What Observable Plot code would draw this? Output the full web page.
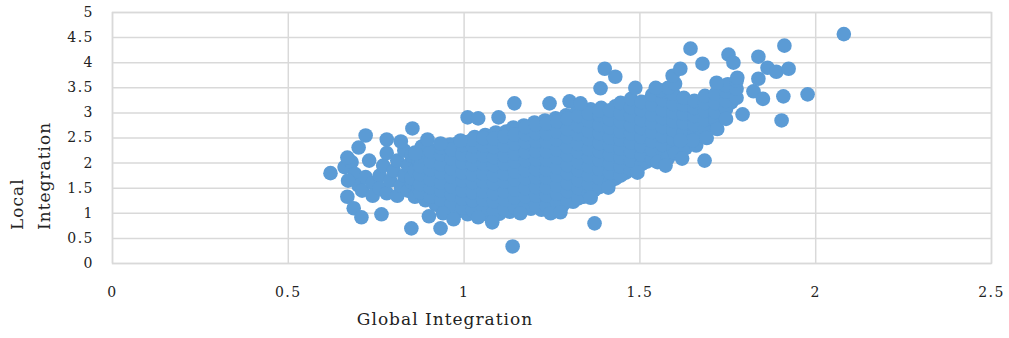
<!DOCTYPE html>
<html><head><meta charset="utf-8">
<script src="https://cdn.jsdelivr.net/npm/d3@7"></script>
<script src="https://cdn.jsdelivr.net/npm/@observablehq/plot@0.6"></script>
<style>body{margin:0;background:#fff;} svg{font-family:"DejaVu Serif",serif;}</style>
</head><body><div id="chart"></div>
<script>
const xTicks = [0, 0.5, 1, 1.5, 2, 2.5];
const yTicks = [0, 0.5, 1, 1.5, 2, 2.5, 3, 3.5, 4, 4.5, 5];
const xLabel = "Global Integration";
const yLabelLines = ["Local", "Integration"];

// [Global Integration, Local Integration]
const leftPoints = [
  [0.66,1.92],[0.68,2.02],[0.69,1.78],[0.70,1.55],[0.71,1.45],[0.72,1.72],[0.73,2.05],[0.74,1.60],
  [0.74,1.35],[0.76,1.75],[0.76,1.50],[0.77,1.95],[0.78,2.20],[0.78,1.40],[0.79,1.65],[0.80,1.85],
  [0.81,2.05],[0.81,1.35],[0.82,1.55],[0.83,1.75],[0.83,2.25],[0.84,1.95],[0.84,1.45],[0.85,2.15],[0.85,1.62]
];

const densePoints = [
  [0.86,1.33],[0.87,1.49],[0.85,1.70],[0.86,1.85],[0.87,2.05],[0.86,2.21],
  [0.89,1.26],[0.90,1.41],[0.88,1.62],[0.89,1.77],[0.90,1.97],[0.89,2.13],[0.88,2.33],
  [0.92,1.17],[0.93,1.37],[0.91,1.53],[0.92,1.74],[0.93,1.89],[0.92,2.09],[0.91,2.25],
  [0.95,1.12],[0.96,1.27],[0.94,1.47],[0.95,1.63],[0.96,1.83],[0.95,2.01],[0.94,2.17],[0.96,2.37],
  [0.98,1.03],[0.99,1.21],[0.97,1.37],[0.98,1.57],[0.99,1.73],[0.98,1.93],[0.97,2.11],[0.99,2.27],[0.98,2.39],
  [1.01,0.98],[1.02,1.14],[1.00,1.34],[1.01,1.50],[1.02,1.70],[1.01,1.86],[1.00,2.06],[1.02,2.22],[1.01,2.42],
  [1.04,1.01],[1.05,1.17],[1.03,1.37],[1.04,1.53],[1.05,1.73],[1.04,1.89],[1.03,2.09],[1.05,2.25],[1.04,2.43],[1.03,2.52],
  [1.07,0.96],[1.08,1.14],[1.06,1.30],[1.07,1.50],[1.08,1.66],[1.07,1.86],[1.06,2.02],[1.08,2.22],[1.07,2.38],[1.06,2.56],
  [1.10,0.99],[1.11,1.15],[1.09,1.35],[1.10,1.51],[1.11,1.71],[1.10,1.87],[1.09,2.07],[1.11,2.23],[1.10,2.43],[1.09,2.61],
  [1.13,1.03],[1.14,1.19],[1.12,1.39],[1.13,1.55],[1.14,1.75],[1.13,1.91],[1.12,2.11],[1.14,2.27],[1.13,2.47],[1.12,2.63],[1.14,2.71],
  [1.16,1.06],[1.17,1.22],[1.15,1.42],[1.16,1.58],[1.17,1.78],[1.16,1.94],[1.15,2.14],[1.17,2.30],[1.16,2.50],[1.15,2.66],[1.17,2.75],
  [1.19,1.09],[1.20,1.25],[1.18,1.45],[1.19,1.61],[1.20,1.81],[1.19,1.97],[1.18,2.17],[1.20,2.33],[1.19,2.53],[1.18,2.69],[1.20,2.81],
  [1.22,1.07],[1.23,1.23],[1.21,1.43],[1.22,1.59],[1.23,1.79],[1.22,1.95],[1.21,2.15],[1.23,2.31],[1.22,2.51],[1.21,2.67],[1.23,2.85],
  [1.25,1.11],[1.26,1.27],[1.24,1.47],[1.25,1.63],[1.26,1.83],[1.25,1.99],[1.24,2.19],[1.26,2.35],[1.25,2.55],[1.24,2.71],[1.26,2.89],
  [1.28,1.16],[1.29,1.32],[1.27,1.52],[1.28,1.68],[1.29,1.88],[1.28,2.04],[1.27,2.24],[1.29,2.40],[1.28,2.60],[1.27,2.76],[1.29,2.95],
  [1.31,1.23],[1.32,1.39],[1.30,1.59],[1.31,1.75],[1.32,1.95],[1.31,2.11],[1.30,2.31],[1.32,2.47],[1.31,2.67],[1.30,2.83],[1.32,3.01],
  [1.34,1.33],[1.35,1.49],[1.33,1.69],[1.34,1.85],[1.35,2.05],[1.34,2.21],[1.33,2.41],[1.35,2.57],[1.34,2.77],[1.33,2.93],[1.35,3.05],
  [1.37,1.46],[1.38,1.62],[1.36,1.82],[1.37,1.98],[1.38,2.18],[1.37,2.34],[1.36,2.54],[1.38,2.70],[1.37,2.90],[1.36,3.07],
  [1.40,1.56],[1.41,1.72],[1.39,1.92],[1.40,2.08],[1.41,2.28],[1.40,2.44],[1.39,2.64],[1.41,2.80],[1.40,3.00],[1.39,3.10],
  [1.43,1.69],[1.44,1.85],[1.42,2.05],[1.43,2.21],[1.44,2.41],[1.43,2.57],[1.42,2.77],[1.44,2.93],[1.43,3.13],
  [1.46,1.81],[1.47,1.97],[1.45,2.17],[1.46,2.33],[1.47,2.53],[1.46,2.69],[1.45,2.89],[1.47,3.05],[1.46,3.18],
  [1.49,1.93],[1.50,2.09],[1.48,2.29],[1.49,2.45],[1.50,2.65],[1.49,2.81],[1.48,3.01],[1.50,3.17],
  [1.52,2.03],[1.53,2.19],[1.51,2.39],[1.52,2.55],[1.53,2.75],[1.52,2.91],[1.51,3.11],[1.53,3.25],
  [1.55,2.13],[1.56,2.29],[1.54,2.49],[1.55,2.65],[1.56,2.85],[1.55,3.01],[1.54,3.21],[1.56,3.30],
  [1.58,2.23],[1.59,2.39],[1.57,2.59],[1.58,2.75],[1.59,2.95],[1.58,3.11],[1.57,3.31],
  [1.61,2.36],[1.62,2.52],[1.60,2.72],[1.61,2.88],[1.62,3.08],[1.61,3.24],
  [1.64,2.51],[1.65,2.67],[1.63,2.87],[1.64,3.03],[1.65,3.19],
  [1.67,2.63],[1.68,2.79],[1.66,2.99],[1.67,3.15],[1.68,3.23],
  [1.70,2.76],[1.71,2.92],[1.69,3.12],[1.70,3.28],
  [1.73,2.96],[1.74,3.12],[1.72,3.32],[1.73,3.45],
  [1.76,3.21],[1.77,3.37],[1.75,3.57]
];

const denseInnerPoints = [
  [0.875,1.42],[0.875,1.58],[0.875,1.78],[0.875,1.94],[0.875,2.14],
  [0.905,1.33],[0.905,1.51],[0.905,1.67],[0.905,1.87],[0.905,2.03],[0.905,2.23],
  [0.935,1.27],[0.935,1.45],[0.935,1.61],[0.935,1.81],[0.935,1.97],[0.935,2.17],[0.935,2.31],
  [0.965,1.19],[0.965,1.37],[0.965,1.53],[0.965,1.73],[0.965,1.89],[0.965,2.09],[0.965,2.27],
  [0.995,1.11],[0.995,1.29],[0.995,1.45],[0.995,1.65],[0.995,1.81],[0.995,2.01],[0.995,2.17],[0.995,2.36],
  [1.025,1.06],[1.025,1.26],[1.025,1.42],[1.025,1.62],[1.025,1.78],[1.025,1.98],[1.025,2.14],[1.025,2.34],[1.025,2.47],
  [1.055,1.08],[1.055,1.27],[1.055,1.43],[1.055,1.63],[1.055,1.79],[1.055,1.99],[1.055,2.15],[1.055,2.35],[1.055,2.50],
  [1.085,1.04],[1.085,1.24],[1.085,1.40],[1.085,1.60],[1.085,1.76],[1.085,1.96],[1.085,2.12],[1.085,2.32],[1.085,2.49],
  [1.115,1.07],[1.115,1.27],[1.115,1.43],[1.115,1.63],[1.115,1.79],[1.115,1.99],[1.115,2.15],[1.115,2.35],[1.115,2.53],
  [1.145,1.11],[1.145,1.31],[1.145,1.47],[1.145,1.67],[1.145,1.83],[1.145,2.03],[1.145,2.19],[1.145,2.39],[1.145,2.57],
  [1.175,1.14],[1.175,1.34],[1.175,1.50],[1.175,1.70],[1.175,1.86],[1.175,2.06],[1.175,2.22],[1.175,2.42],[1.175,2.58],[1.175,2.72],
  [1.205,1.16],[1.205,1.36],[1.205,1.52],[1.205,1.72],[1.205,1.88],[1.205,2.08],[1.205,2.24],[1.205,2.44],[1.205,2.60],[1.205,2.76],
  [1.235,1.15],[1.235,1.35],[1.235,1.51],[1.235,1.71],[1.235,1.87],[1.235,2.07],[1.235,2.23],[1.235,2.43],[1.235,2.59],[1.235,2.79],
  [1.265,1.19],[1.265,1.39],[1.265,1.55],[1.265,1.75],[1.265,1.91],[1.265,2.11],[1.265,2.27],[1.265,2.47],[1.265,2.63],[1.265,2.83],
  [1.295,1.24],[1.295,1.44],[1.295,1.60],[1.295,1.80],[1.295,1.96],[1.295,2.16],[1.295,2.32],[1.295,2.52],[1.295,2.68],[1.295,2.88],
  [1.325,1.30],[1.325,1.50],[1.325,1.66],[1.325,1.86],[1.325,2.02],[1.325,2.22],[1.325,2.38],[1.325,2.58],[1.325,2.74],[1.325,2.94],
  [1.355,1.40],[1.355,1.58],[1.355,1.76],[1.355,1.94],[1.355,2.12],[1.355,2.28],[1.355,2.48],[1.355,2.64],[1.355,2.84],[1.355,2.99],
  [1.385,1.52],[1.385,1.70],[1.385,1.88],[1.385,2.06],[1.385,2.24],[1.385,2.40],[1.385,2.60],[1.385,2.76],[1.385,2.96],[1.385,3.05],
  [1.415,1.63],[1.415,1.81],[1.415,1.99],[1.415,2.17],[1.415,2.35],[1.415,2.51],[1.415,2.71],[1.415,2.87],[1.415,3.05],
  [1.445,1.75],[1.445,1.93],[1.445,2.11],[1.445,2.29],[1.445,2.47],[1.445,2.63],[1.445,2.83],[1.445,2.99],[1.445,3.20],
  [1.475,1.87],[1.475,2.05],[1.475,2.23],[1.475,2.41],[1.475,2.59],[1.475,2.75],[1.475,2.95],[1.475,3.11],[1.475,3.28],
  [1.505,1.98],[1.505,2.16],[1.505,2.34],[1.505,2.52],[1.505,2.70],[1.505,2.86],[1.505,3.06],[1.505,3.22],
  [1.535,2.08],[1.535,2.26],[1.535,2.44],[1.535,2.62],[1.535,2.80],[1.535,2.96],[1.535,3.16],[1.535,3.36],
  [1.565,2.18],[1.565,2.36],[1.565,2.54],[1.565,2.72],[1.565,2.90],[1.565,3.06],[1.565,3.26],[1.565,3.42],
  [1.595,2.30],[1.595,2.48],[1.595,2.66],[1.595,2.84],[1.595,3.02],[1.595,3.18],[1.595,3.38],
  [1.625,2.44],[1.625,2.62],[1.625,2.80],[1.625,2.98],[1.625,3.16],[1.625,3.30],
  [1.655,2.58],[1.655,2.76],[1.655,2.94],[1.655,3.10],[1.655,3.24],
  [1.685,2.70],[1.685,2.86],[1.685,3.04],[1.685,3.20],[1.685,3.34],
  [1.715,2.86],[1.715,3.02],[1.715,3.20],[1.715,3.38],
  [1.745,3.08],[1.745,3.24],[1.745,3.42],[1.745,3.55],
  [1.775,3.30],[1.775,3.48],[1.775,3.64],
  [1.56,3.45],[1.58,3.50],[1.60,3.58]
];

const lowerRightPoints = [
  [1.55,2.02],[1.58,2.10],[1.60,2.20],[1.63,2.30],[1.66,2.35],[1.65,2.45],[1.69,2.50],[1.72,2.68],[1.745,2.88]
];

const outlierPoints = [
  [0.62,1.80],[0.668,2.11],[0.668,1.33],[0.67,1.65],[0.686,1.10],[0.70,2.31],[0.708,0.92],[0.72,2.55],
  [0.765,0.98],[0.78,2.47],[0.82,2.43],[0.853,2.69],[0.85,0.70],[0.862,2.19],[0.896,2.47],[0.90,0.94],
  [0.933,2.39],[0.933,0.70],[0.94,1.00],[0.97,0.88],[0.99,2.45],[1.01,2.91],[1.04,2.89],[1.04,0.92],
  [1.08,0.82],[1.098,2.91],[1.138,0.34],[1.143,3.19],[1.16,1.00],[1.243,3.19],[1.246,1.00],[1.274,1.02],
  [1.30,3.23],[1.331,3.19],[1.36,1.31],[1.371,0.80],[1.388,3.49],[1.40,3.88],[1.43,3.72],[1.41,1.51],
  [1.487,3.50],[1.493,1.81],[1.545,3.50],[1.573,1.95],[1.593,3.74],[1.615,3.88],[1.615,2.45],[1.62,2.09],
  [1.644,4.28],[1.678,3.98],[1.684,2.05],[1.718,3.60],[1.752,4.16],[1.766,4.00],[1.777,3.70],[1.792,2.97],
  [1.823,3.43],[1.837,4.12],[1.837,3.68],[1.85,3.28],[1.863,3.90],[1.888,3.82],[1.903,2.85],[1.908,3.33],
  [1.911,4.34],[1.923,3.88],[1.977,3.37],[2.08,4.57]
];

const points = [...leftPoints, ...densePoints, ...denseInnerPoints, ...lowerRightPoints, ...outlierPoints]
  .map(([g, l]) => ({g, l}));

const chart = Plot.plot({
  width: 1009,
  height: 338,
  marginTop: 12,
  marginLeft: 112,
  marginRight: 18,
  marginBottom: 75,
  style: {fontFamily: "DejaVu Serif, serif", fontSize: "14px", color: "#222", background: "#fff", letterSpacing: "1.5px"},
  x: {domain: [0, 2.5], ticks: xTicks, tickFormat: d => String(d), tickSize: 0, tickPadding: 24, label: null},
  y: {domain: [0, 5], ticks: yTicks, tickFormat: d => String(d), tickSize: 0, tickPadding: 18.5, label: null},
  marks: [
    Plot.gridX(xTicks, {stroke: "#d9d9d9", strokeOpacity: 1, strokeWidth: 1.5}),
    Plot.gridY(yTicks, {stroke: "#d9d9d9", strokeOpacity: 1, strokeWidth: 1.5}),
    Plot.frame({stroke: "#d9d9d9", strokeWidth: 1.5}),
    Plot.dot(points, {x: "g", y: "l", r: 7.3, fill: "#5b9bd5", stroke: "none"})
  ]
});

const svg = d3.select(chart);
svg.append("text").attr("x", 445).attr("y", 325).attr("text-anchor", "middle")
  .attr("font-size", 17).attr("letter-spacing", "1px").attr("fill", "#222").text(xLabel);
const ylx = [23, 50];
yLabelLines.forEach((t, i) => {
  svg.append("text").attr("transform", `translate(${ylx[i]},230) rotate(-90)`)
    .attr("text-anchor", "start").attr("font-size", 17).attr("letter-spacing", "1px")
    .attr("fill", "#222").text(t);
});
document.getElementById("chart").appendChild(chart);
</script></body></html>
